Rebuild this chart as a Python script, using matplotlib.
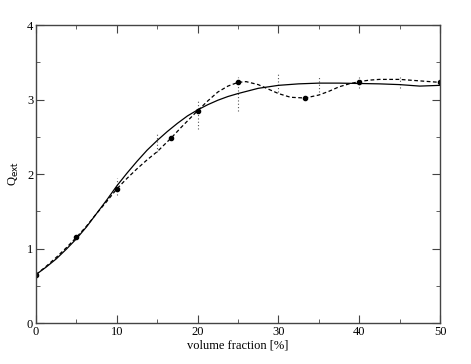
import matplotlib
matplotlib.use("Agg")
import matplotlib.pyplot as plt
from matplotlib.ticker import MultipleLocator

# measured points
frac = [0, 5, 10, 16.7, 20, 25, 33.3, 40, 50]
q_meas = [0.65, 1.15, 1.80, 2.48, 2.85, 3.23, 3.02, 3.24, 3.23]

# dashed curve through the points
x_dash = [0, 1.25, 2.5, 3.75, 5, 6.25, 7.5, 8.75, 10, 11.25, 12.5, 13.75, 15, 16.7,
          18, 20, 21.25, 22.5, 23.75, 25, 26, 27.5, 28.75, 30, 31.5, 33.3, 35,
          36.25, 37.5, 38.75, 40, 41.25, 42.5, 45, 47.5, 50]
q_dash = [0.65, 0.76, 0.88, 1.01, 1.15, 1.30, 1.47, 1.63, 1.80, 1.94, 2.07, 2.19,
          2.30, 2.48, 2.63, 2.85, 2.98, 3.10, 3.18, 3.23, 3.24, 3.20, 3.14, 3.08,
          3.03, 3.02, 3.06, 3.11, 3.17, 3.21, 3.24, 3.26, 3.27, 3.27, 3.25, 3.23]

# solid fit curve
x_fit = [0, 1.25, 2.5, 3.75, 5, 6.25, 7.5, 8.75, 10, 11.25, 12.5, 13.75, 15, 16.25,
         17.5, 18.75, 20, 21.25, 22.5, 23.75, 25, 27.5, 30, 32.5, 35, 37.5, 40,
         42.5, 45, 47.5, 50]
q_fit = [0.65, 0.75, 0.86, 0.99, 1.13, 1.29, 1.47, 1.65, 1.84, 2.01, 2.17, 2.32,
         2.45, 2.57, 2.68, 2.78, 2.86, 2.93, 2.99, 3.04, 3.08, 3.15, 3.19, 3.21,
         3.22, 3.22, 3.215, 3.21, 3.20, 3.18, 3.19]

# error bars (dotted)
x_err = [10, 15, 20, 25, 30, 35, 40, 45]
err_lo = [1.72, 2.30, 2.60, 2.85, 3.10, 3.10, 3.15, 3.15]
err_hi = [1.95, 2.55, 3.00, 3.30, 3.35, 3.30, 3.30, 3.30]

plt.rcParams['font.family'] = ['Liberation Serif', 'DejaVu Serif']

fig = plt.figure(figsize=(4.71, 3.64), dpi=100)
ax = fig.add_axes([0.0764, 0.1126, 0.8578, 0.8187])

ax.vlines(x_err, err_lo, err_hi, colors='#555555', linestyles=(0, (1, 2)), linewidth=0.8)
ax.plot(x_fit, q_fit, color='black', linewidth=0.9)
ax.plot(x_dash, q_dash, color='black', linewidth=0.9, linestyle=(0, (3, 2)))
ax.plot(frac, q_meas, 'o', color='black', markersize=3)

ax.set_xlim(0, 50)
ax.set_ylim(0, 4)
ax.xaxis.set_major_locator(MultipleLocator(10))
ax.xaxis.set_minor_locator(MultipleLocator(5))
ax.yaxis.set_major_locator(MultipleLocator(1))
ax.yaxis.set_minor_locator(MultipleLocator(0.5))
ax.tick_params(which='both', direction='in', top=True, right=True,
               labelsize=9, color='#444444', pad=2)
ax.tick_params(which='major', length=6)
ax.tick_params(which='minor', length=3)
for s in ax.spines.values():
    s.set_color('#444444')
    s.set_linewidth(1.0)

ax.set_xlabel('volume fraction [%]', fontsize=9, labelpad=1)
ax.set_ylabel('Q$_\\mathrm{ext}$', fontsize=9, labelpad=4)

fig.savefig('out.png', dpi=100)
